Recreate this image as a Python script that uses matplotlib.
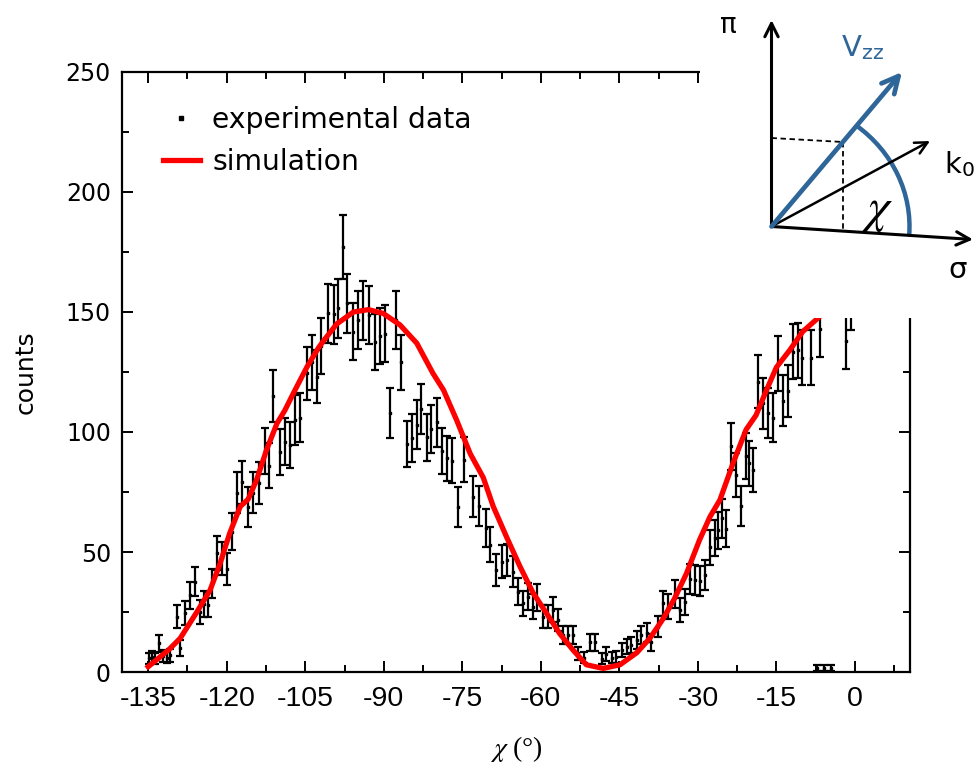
import matplotlib
matplotlib.use('Agg')
import matplotlib.pyplot as plt
import numpy as np
from matplotlib.lines import Line2D
from matplotlib.patches import Arc

plt.rcParams['mathtext.fontset'] = 'stix'

# measured angular scan: chi (deg) and counts
chi = [-134.9, -134.3, -133.7, -133.0, -132.1, -131.4, -130.8, -129.5, -128.9, -127.9,
       -127.0, -126.0, -125.1, -124.4, -123.5, -122.8, -121.9, -120.9, -120.0, -119.0,
       -118.1, -117.1, -115.9, -114.9, -113.9, -112.7, -112.0, -111.1, -109.8, -108.9,
       -107.9, -106.9, -106.0, -104.7, -103.8, -102.8, -101.9, -100.6, -99.6, -98.7,
       -97.8, -97.0, -95.9, -94.9, -93.9, -92.8, -91.7, -90.7, -89.8, -88.8,
       -87.7, -86.8, -85.6, -84.7, -83.7, -82.8, -81.8, -80.9, -79.9, -78.9,
       -78.0, -77.0, -75.8, -74.6, -72.9, -71.9, -70.4, -69.7, -68.5, -67.5,
       -66.5, -65.3, -64.3, -63.4, -62.4, -61.5, -60.8, -59.6, -58.6, -57.7,
       -56.7, -55.7, -54.8, -53.8, -52.9, -51.7, -50.6, -49.7, -48.4, -47.5,
       -46.5, -45.6, -44.6, -43.6, -42.7, -41.7, -40.8, -39.8, -38.9, -37.6,
       -36.7, -35.7, -34.4, -33.5, -32.5, -31.6, -30.6, -29.7, -28.7, -27.7,
       -26.7, -26.1, -25.5, -24.6, -23.6, -22.7, -21.7, -20.8, -20.2, -19.5,
       -18.6, -17.6, -16.7, -15.7, -14.7, -13.8, -12.8, -11.8, -10.9, -10.2,
       -8.5, -7.3, -6.6, -5.9, -4.5, -1.7, -0.7]
counts = [5.7, 6.4, 5.5, 12.0, 6.7, 6.0, 7.0, 23.0, 10.0, 24.6,
          32.0, 37.6, 25.0, 28.3, 28.0, 37.0, 49.6, 47.4, 43.0, 58.5,
          74.7, 79.0, 68.6, 74.7, 78.7, 92.0, 86.0, 115.0, 91.8, 96.0,
          94.6, 105.0, 106.0, 124.4, 129.0, 123.0, 136.0, 149.4, 149.0, 151.5,
          177.0, 153.6, 141.8, 146.7, 150.8, 148.8, 137.6, 140.0, 141.0, 108.0,
          146.7, 129.0, 95.0, 97.5, 103.0, 109.6, 97.8, 101.2, 104.0, 92.0,
          89.0, 88.0, 68.6, 88.5, 73.0, 69.0, 60.0, 53.0, 42.5, 46.0,
          46.7, 41.8, 33.5, 28.6, 31.4, 27.2, 31.0, 23.0, 23.0, 26.0,
          21.7, 15.4, 15.4, 15.4, 7.8, 6.0, 12.4, 12.4, 5.5, 7.5,
          6.0, 6.4, 9.2, 10.6, 11.2, 13.3, 15.4, 16.4, 12.4, 18.9,
          28.6, 27.2, 32.5, 25.8, 29.3, 38.7, 38.3, 38.0, 40.4, 52.0,
          56.0, 59.0, 64.0, 59.6, 94.0, 82.0, 69.0, 90.0, 87.0, 84.0,
          121.0, 112.0, 108.0, 106.0, 128.6, 113.0, 117.0, 133.5, 134.0, 131.0,
          131.0, 1.5, 143.0, 1.5, 1.5, 138.0, 155.0]

# simulated curve
chi_sim = [-135.0, -131.1, -128.9, -125.7, -123.2, -121.3, -119.4, -117.4, -115.9, -114.3,
           -112.4, -110.4, -108.9, -107.3, -104.7, -102.5, -101.5, -99.0, -95.8, -92.9,
           -90.1, -86.9, -83.7, -80.6, -78.6, -76.1, -73.5, -71.0, -69.1, -66.5,
           -64.0, -61.5, -58.9, -56.4, -53.8, -51.3, -48.1, -44.9, -41.7, -39.2,
           -36.7, -34.5, -32.2, -29.7, -27.7, -25.8, -23.3, -20.8, -18.9, -16.9,
           -15.0, -12.5, -10.0, -6.8, -3.0]
counts_sim = [2.2, 9.2, 14.0, 25.0, 34.0, 45.0, 58.0, 69.0, 72.0, 80.0,
              92.5, 103.6, 109.0, 116.0, 127.0, 135.0, 138.0, 145.0, 150.0, 151.0,
              149.4, 144.6, 137.0, 124.4, 117.5, 105.0, 91.0, 81.0, 69.0, 56.0,
              44.0, 33.0, 24.4, 16.0, 9.0, 3.0, 1.5, 3.0, 8.0, 14.0,
              22.0, 30.5, 41.0, 55.0, 64.7, 71.7, 87.0, 101.0, 107.0, 117.5,
              127.0, 134.0, 141.8, 148.0, 156.0]

xticks = [-135, -120, -105, -90, -75, -60, -45, -30, -15, 0]
yticks = [0, 50, 100, 150, 200, 250]

blue = '#2f6699'

fig = plt.figure(figsize=(9.75, 7.7), dpi=100)
ax = fig.add_axes([122/975, 1-672/770, 788/975, 600/770])

cnt = np.array(counts)
ax.errorbar(chi, cnt, yerr=np.sqrt(cnt), fmt='s', ms=2, color='k', ecolor='k',
            elinewidth=1.6, capsize=2.6, capthick=1.6, zorder=2)
ax.plot(chi_sim, counts_sim, color='red', lw=3.8, zorder=3)

ax.set_xlim(-140, 10.5)
ax.set_ylim(0, 250)
ax.set_xticks(xticks)
ax.set_xticks(np.arange(-127.5, 10, 15), minor=True)
ax.set_yticks(yticks)
ax.set_yticks(np.arange(25, 250, 50), minor=True)
ax.set_xticklabels([str(t) for t in xticks], fontfamily='Liberation Sans', fontsize=20.5)
ax.set_yticklabels([str(t) for t in yticks], fontfamily='DejaVu Sans', fontsize=17)
ax.tick_params(which='both', direction='in', top=True, right=True, width=1.4)
ax.tick_params(which='major', length=8)
ax.tick_params(which='minor', length=5)
ax.tick_params(axis='x', pad=10)
ax.tick_params(axis='y', pad=8)
for s in ax.spines.values():
    s.set_linewidth(1.6)

ax.set_ylabel('counts', fontsize=18, labelpad=20)
ax.set_xlabel(r'$\chi$ (°)', fontfamily='Liberation Serif', fontsize=20, labelpad=16)

handles = [Line2D([], [], marker='s', ms=2.5, ls='none', color='k'),
           Line2D([], [], color='red', lw=3.8)]
ax.legend(handles, ['experimental data', 'simulation'], loc='upper left',
          bbox_to_anchor=(163/975, 1-106/770), bbox_transform=fig.transFigure,
          frameon=False, fontsize=20.3, handlelength=1.3, handletextpad=0.45,
          borderpad=0, borderaxespad=0, labelspacing=0.5)

# geometry sketch: field gradient direction vs. beam
ins = fig.add_axes([700/975, 1-318/770, 275/975, 318/770])
ins.set_xlim(700, 975)
ins.set_ylim(452, 770)
ins.set_xticks([])
ins.set_yticks([])
for s in ins.spines.values():
    s.set_visible(False)
ins.patch.set_facecolor('white')

o = (771.5, 543.5)
ins.annotate('', xy=(771.5, 750), xytext=o,
             arrowprops=dict(arrowstyle='->', lw=2.2, color='k', mutation_scale=24, shrinkA=0, shrinkB=0))
ins.annotate('', xy=(973, 530.5), xytext=o,
             arrowprops=dict(arrowstyle='->', lw=2.2, color='k', mutation_scale=24, shrinkA=0, shrinkB=0))
ins.annotate('', xy=(930, 629), xytext=o,
             arrowprops=dict(arrowstyle='->', lw=1.8, color='k', mutation_scale=22, shrinkA=0, shrinkB=0))
ins.annotate('', xy=(902, 698), xytext=o,
             arrowprops=dict(arrowstyle='->', lw=3.4, color=blue, mutation_scale=30, shrinkA=0, shrinkB=0))
ins.plot([771.5, 843], [632, 628], color='k', lw=1.3, ls=(0, (3, 2)))
ins.plot([843, 843], [628, 539], color='k', lw=1.3, ls=(0, (3, 2)))
ins.add_patch(Arc(o, 276, 256, theta1=-4, theta2=50, color=blue, lw=3.2))

ins.text(728, 745, 'π', fontsize=20, ha='center', va='center')
ins.text(862, 722, r'V$_{\mathregular{zz}}$', fontsize=21, color=blue, ha='center', va='center')
ins.text(944, 606, r'k$_{\mathregular{0}}$', fontsize=21, ha='left', va='center')
ins.text(958, 500, 'σ', fontsize=21, ha='center', va='center')
ins.text(877, 560, r'$\chi$', fontsize=36, ha='center', va='center')

fig.savefig('out.png', dpi=100)
